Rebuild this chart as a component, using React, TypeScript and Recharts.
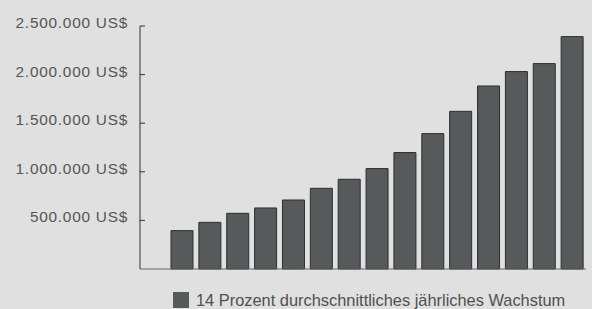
import { BarChart, Bar, XAxis, YAxis, Legend } from "recharts";

const years = ["1", "2", "3", "4", "5", "6", "7", "8", "9", "10", "11", "12", "13", "14", "15"];
const revenue = [395000, 480000, 573000, 628000, 710000, 830000, 923000, 1033000, 1198000, 1393000, 1622000, 1883000, 2031000, 2113000, 2391000];
const yTicks = [500000, 1000000, 1500000, 2000000, 2500000];
const seriesLabel = "14 Prozent durchschnittliches jährliches Wachstum";

const data = years.map((y, i) => ({ year: y, value: revenue[i] }));

const fmt = (v: number) => v.toLocaleString("de-DE") + " US$";

// ticks point inward, so draw them ourselves next to the label
const YTick = (props: any) => {
    const { x, y, payload } = props;
    return (
        <g>
            <line x1={x + 12} x2={x + 17} y1={y} y2={y} stroke="#333" strokeWidth={1} />
            <text x={x} y={y} dy={2} textAnchor="end" fill="#555"
                fontSize={15.4} letterSpacing={0.75} fontFamily="'Liberation Sans', Arial, sans-serif">
                {fmt(payload.value)}
            </text>
        </g>
    );
};

const LegendBox = () => (
    <div style={{ position: "relative", width: 592, height: 18 }}>
        <span style={{ position: "absolute", left: 173, top: 1, width: 15.5, height: 15.5, background: "#575a5a" }} />
        <span style={{
            position: "absolute", left: 196, top: 1, fontSize: 16.4, lineHeight: 1,
            color: "#505050", fontFamily: "'Liberation Sans', Arial, sans-serif", whiteSpace: "nowrap"
        }}>
            {seriesLabel}
        </span>
    </div>
);

export default function App() {
    return (
        <div style={{ position: "absolute", left: 0, top: 0, width: 592, height: 309, background: "#e0e0e0" }}>
            <BarChart width={592} height={309} data={data} margin={{ top: 26, right: 6, bottom: 0, left: 0 }}>
                <XAxis dataKey="year" height={22} tick={false} tickLine={false}
                    stroke="#666" padding={{ left: 28, right: 0 }} />
                <YAxis width={140} domain={[0, 2500000]} ticks={yTicks} interval={0}
                    tickSize={0} tickMargin={12} tickLine={false} stroke="#333" tick={<YTick />} />
                <Bar dataKey="value" name={seriesLabel} fill="#575a5a" stroke="#2e2e2e"
                    strokeWidth={1} barSize={22} isAnimationActive={false} />
                <Legend verticalAlign="bottom" content={<LegendBox />}
                    wrapperStyle={{ left: 0, bottom: 0, width: 592, height: 18 }} />
            </BarChart>
        </div>
    );
}
